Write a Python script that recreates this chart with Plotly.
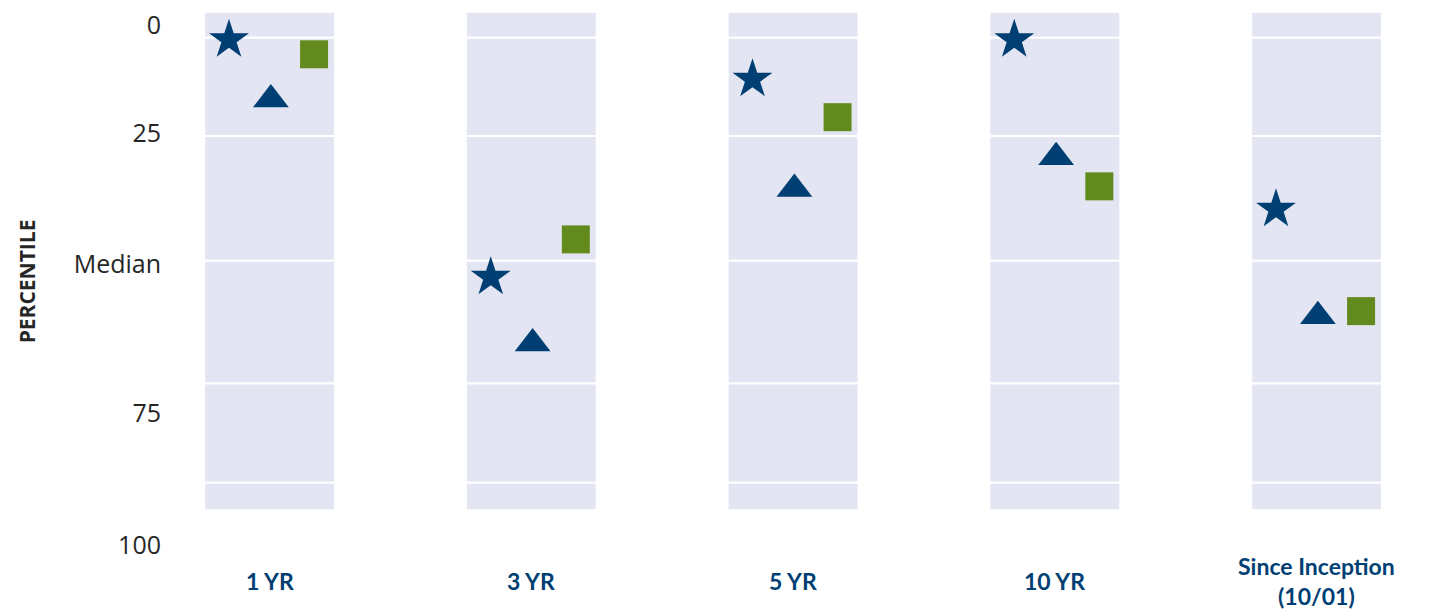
import plotly.graph_objects as go

# periods shown along the bottom
periods = ['1 YR', '3 YR', '5 YR', '10 YR', 'Since Inception<br>(10/01)']

# percentile rank of each series per period (0 = best)
star_rank = [2.8, 48.5, 10.4, 2.8, 35.4]
triangle_rank = [14.3, 61.2, 31.5, 25.4, 56.0]
square_rank = [5.6, 41.2, 17.7, 31.0, 55.0]

# edges of the shaded background bands (percentile units)
band_edges = [-2.6, 2.4, 21.3, 45.3, 68.9, 88.0, 93.3]

# y tick labels and where they sit
tick_pos = [0, 20.8, 45.9, 74.6, 100]
tick_text = ['0', '25', 'Median', '75', '100']

NAVY = '#003F73'
GREEN = '#638A1C'
BAND = '#E3E6F2'

pos = list(range(len(periods)))

# background bands: one stacked segment per gap between edges
bx, bbase, bh = [], [], []
for p in pos:
    for lo, hi in zip(band_edges[:-1], band_edges[1:]):
        bx.append(p)
        bbase.append(lo)
        bh.append(hi - lo)

fig = go.Figure()
fig.add_trace(go.Bar(
    x=bx, y=bh, base=bbase, width=0.5,
    marker=dict(color=BAND, line=dict(color='white', width=2)),
    hoverinfo='skip', showlegend=False
))

series = [
    (star_rank, -0.155, 'star', 30, NAVY),
    (triangle_rank, 0.005, 'triangle-up', 31, NAVY),
    (square_rank, 0.17, 'square', 28, GREEN),
]
for vals, off, sym, size, color in series:
    fig.add_trace(go.Scatter(
        x=[p + off for p in pos], y=vals, mode='markers',
        marker=dict(symbol=sym, size=size, color=color, line=dict(width=0)),
        showlegend=False
    ))

for p, label in zip(pos, periods):
    fig.add_annotation(
        x=p, y=-0.048, xref='x', yref='paper', text='<b>' + label + '</b>',
        showarrow=False, yanchor='middle',
        font=dict(family='Lato', size=23, color=NAVY)
    )

# page body adds 8px around the figure
fig.update_layout(
    width=1438, height=604,
    margin=dict(l=160, r=20, t=0, b=57),
    plot_bgcolor='white',
    paper_bgcolor='white',
    barmode='overlay',
    showlegend=False,
    xaxis=dict(range=[-0.388, 4.418], showgrid=False, zeroline=False,
               showticklabels=False, showline=False),
    yaxis=dict(range=[101.9, -3.3], showgrid=False, zeroline=False,
               tickvals=tick_pos, ticktext=tick_text, ticks='',
               ticklabelstandoff=6, ticklabeloverflow='allow',
               tickfont=dict(family='Open Sans', size=25, color='#262626'),
               title=dict(text='<b>PERCENTILE</b>', standoff=32,
                          font=dict(family='Open Sans', size=21, color='#262626'))),
)

fig.write_html("out.html")
